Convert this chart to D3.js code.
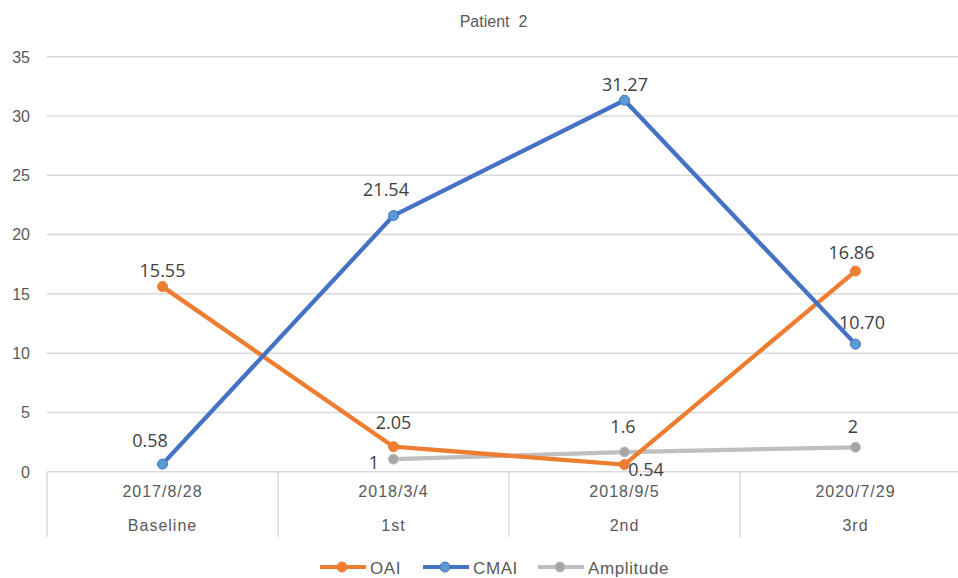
<!DOCTYPE html>
<html><head><meta charset="utf-8">
<script src="https://cdn.jsdelivr.net/npm/d3@7"></script>
<style>body{margin:0;background:#fff}svg{display:block}</style>
</head><body>
<svg id="c" width="958" height="578"></svg>
<script>
const dates = ["2017/8/28","2018/3/4","2018/9/5","2020/7/29"];
const stages = ["Baseline","1st","2nd","3rd"];
const oai = [15.55, 2.05, 0.54, 16.86];
const cmai = [0.58, 21.54, 31.27, 10.70];
const amplitude = [null, 1, 1.6, 2];
const oaiLabels = ["15.55","2.05","0.54","16.86"];
const cmaiLabels = ["0.58","21.54","31.27","10.70"];
const ampLabels = ["","1","1.6","2"];
const yTicks = [0,5,10,15,20,25,30,35];

const svg = d3.select("#c");
const x = d3.scaleBand().domain(d3.range(4)).range([47, 971]);
const y = d3.scaleLinear().domain([0,35]).range([471, 56]);
const cx = i => x(i) + x.bandwidth()/2;
const AX = "Liberation Sans, Arial";

svg.append("text").attr("x",493.5).attr("y",27).attr("text-anchor","middle")
  .style("white-space","pre")
  .attr("font-family",AX).attr("font-size",16).attr("fill","#595959").text("Patient  2");

// gridlines
svg.append("g").selectAll("line").data(yTicks).join("line")
  .attr("x1",47).attr("x2",958).attr("y1",d=>y(d)+0.7).attr("y2",d=>y(d)+0.7)
  .attr("stroke","#d9d9d9").attr("stroke-width",1.5);
svg.append("g").selectAll("text").data(yTicks).join("text")
  .attr("x",30).attr("y",d=>y(d)+6.5).attr("text-anchor","end")
  .attr("font-family",AX).attr("font-size",16).attr("fill","#595959").text(d=>d);

// category dividers
svg.append("g").selectAll("line").data(d3.range(4)).join("line")
  .attr("x1",d=>x(d)).attr("x2",d=>x(d)).attr("y1",472).attr("y2",537)
  .attr("stroke","#d9d9d9").attr("stroke-width",1.5);
svg.append("g").selectAll("text").data(dates).join("text")
  .attr("x",(d,i)=>cx(i)).attr("y",497).attr("text-anchor","middle")
  .attr("font-family",AX).attr("font-size",16).attr("letter-spacing",1).attr("fill","#595959").text(d=>d);
svg.append("g").selectAll("text").data(stages).join("text")
  .attr("x",(d,i)=>cx(i)).attr("y",531).attr("text-anchor","middle")
  .attr("font-family",AX).attr("font-size",16).attr("letter-spacing",1).attr("fill","#595959").text(d=>d);

const series = [
  {name:"OAI", vals:oai, labels:oaiLabels, color:"#ED7D31", fill:"#ED7D31",
   off:[[0,-10],[0,-18],[21.5,11],[-4,-12]]},
  {name:"CMAI", vals:cmai, labels:cmaiLabels, color:"#4472C4", fill:"#5B9BD5",
   off:[[-12.5,-17],[-7.5,-19.5],[0.5,-9],[6.5,-15]]},
  {name:"Amplitude", vals:amplitude, labels:ampLabels, color:"#BFBFBF", fill:"#A5A5A5",
   off:[[0,0],[-19.5,10],[-1.5,-19],[-2.5,-14]]}
];
const line = d3.line().defined(d=>d.v!=null).x(d=>cx(d.i)).y(d=>y(d.v));
const order = [2,0,1];
order.forEach(k=>{
  const s = series[k];
  const pts = s.vals.map((v,i)=>({v,i}));
  svg.append("path").datum(pts).attr("d",line).attr("fill","none")
    .attr("stroke",s.color).attr("stroke-width",4.3).attr("stroke-linejoin","round");
  svg.append("g").selectAll("circle").data(pts.filter(d=>d.v!=null)).join("circle")
    .attr("cx",d=>cx(d.i)).attr("cy",d=>y(d.v)).attr("r",5)
    .attr("fill",s.fill).attr("stroke",s.color).attr("stroke-width",1);
});
series.forEach(s=>{
  svg.append("g").selectAll("text").data(s.vals.map((v,i)=>({v,i}))
      .filter(d=>d.v!=null)).join("text")
    .attr("x",d=>cx(d.i)+s.off[d.i][0]).attr("y",d=>y(d.v)+s.off[d.i][1])
    .attr("text-anchor","middle").attr("font-family","Open Sans, DejaVu Sans")
    .attr("font-size",18).attr("fill","#404040").text(d=>s.labels[d.i]);
});

// legend
const legX = [320,423,538];
series.forEach((s,k)=>{
  const g = svg.append("g").attr("transform",`translate(${legX[k]},567)`);
  g.append("line").attr("x1",0).attr("x2",46).attr("y1",0).attr("y2",0)
    .attr("stroke",s.color).attr("stroke-width",4);
  g.append("circle").attr("cx",22).attr("cy",0).attr("r",5).attr("fill",s.fill).attr("stroke",s.color);
  g.append("text").attr("x",50).attr("y",7).attr("font-family",AX)
    .attr("font-size",17).attr("letter-spacing",0.6).attr("fill","#595959").text(s.name);
});
</script>
</body></html>
